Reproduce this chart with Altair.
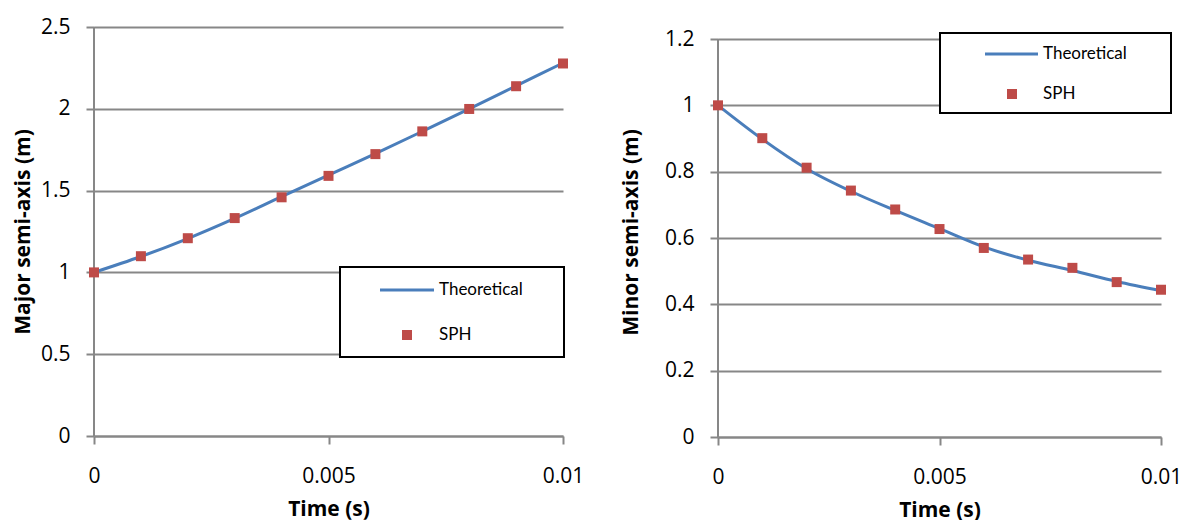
import altair as alt
import pandas as pd

# ---- data ----
time_s = [0, 0.001, 0.002, 0.003, 0.004, 0.005, 0.006, 0.007, 0.008, 0.009, 0.01]

major_theoretical = [1.0, 1.097, 1.207, 1.33, 1.463, 1.595, 1.726, 1.862, 2.0, 2.14, 2.28]
major_sph = [1.0, 1.099, 1.209, 1.332, 1.459, 1.590, 1.723, 1.862, 1.999, 2.138, 2.277]

minor_theoretical = [1.0, 0.898, 0.809, 0.741, 0.683, 0.628, 0.573, 0.533, 0.502, 0.469, 0.441]
minor_sph = [1.0, 0.901, 0.812, 0.743, 0.686, 0.627, 0.570, 0.535, 0.510, 0.467, 0.444]

x_ticks = [0, 0.005, 0.01]
major_y_ticks = [0, 0.5, 1, 1.5, 2, 2.5]
minor_y_ticks = [0, 0.2, 0.4, 0.6, 0.8, 1.0, 1.2]

legend_labels = ["Theoretical", "SPH"]

BLUE = "#4A7EBB"
RED = "#BE4B48"
GRID = "#878787"
FONT = "Open Sans"
LEGEND_FONT = "Lato"


def panel(theo, sph, y_ticks, y_top, y_max, y_title, w, h, box, title_pad):
    df = pd.DataFrame({"t": time_s, "theo": theo, "sph": sph})
    x = alt.X(
        "t:Q",
        scale=alt.Scale(domain=[0, 0.01], nice=False, zero=False),
        axis=alt.Axis(
            values=x_ticks,
            labelExpr="format(datum.value, '~g')",
            labelFlush=False,
            title="Time (s)",
            grid=False,
            domainColor=GRID,
            domainWidth=2,
            tickColor=GRID,
            tickWidth=2,
            tickSize=8,
            labelPadding=21,
            titlePadding=12,
        ),
    )
    yaxis = alt.Axis(
        values=y_ticks,
        labelExpr="format(datum.value, '~g')",
        title=y_title,
        grid=True,
        gridColor=GRID,
        gridWidth=2,
        domain=False,
        tickColor=GRID,
        tickWidth=2,
        tickSize=8,
        labelPadding=16,
        titlePadding=title_pad,
    )
    yscale = alt.Scale(domain=[0, y_top], nice=False, zero=True)

    line = alt.Chart(df).mark_line(color=BLUE, strokeWidth=3, interpolate="monotone").encode(
        x=x, y=alt.Y("theo:Q", scale=yscale, axis=yaxis)
    )
    # vertical axis line from 0 to the last tick
    yline = alt.Chart(alt.Data(values=[{"a": 1}])).mark_rule(color=GRID, strokeWidth=2).encode(
        x=alt.datum(0), y=alt.datum(0), y2=alt.datum(y_max)
    )
    pts = alt.Chart(df).mark_square(color=RED, size=100, opacity=1).encode(
        x=alt.X("t:Q"), y=alt.Y("sph:Q")
    )

    bx0, by0, bx1, by1, lx0, lx1, ly1, sqx, ly2, tx = box
    one = alt.Data(values=[{"a": 1}])
    rect = alt.Chart(one).mark_rect(fill="white", stroke="black", strokeWidth=2).encode(
        x=alt.value(bx0), x2=alt.value(bx1), y=alt.value(by0), y2=alt.value(by1)
    )
    lline = alt.Chart(one).mark_rule(color=BLUE, strokeWidth=3).encode(
        x=alt.value(lx0), x2=alt.value(lx1), y=alt.value(ly1)
    )
    lsq = alt.Chart(one).mark_square(color=RED, size=100, opacity=1).encode(
        x=alt.value(sqx), y=alt.value(ly2)
    )
    t1 = alt.Chart(one).mark_text(align="left", baseline="middle", font=LEGEND_FONT, fontSize=17, color="black").encode(
        x=alt.value(tx), y=alt.value(ly1), text=alt.value(legend_labels[0])
    )
    t2 = alt.Chart(one).mark_text(align="left", baseline="middle", font=LEGEND_FONT, fontSize=17, color="black").encode(
        x=alt.value(tx), y=alt.value(ly2), text=alt.value(legend_labels[1])
    )
    layers = [line, yline, pts, rect, lline, lsq, t1, t2]
    return alt.layer(*layers).properties(width=w, height=h)


left = panel(
    major_theoretical, major_sph, major_y_ticks, 2.5, 2.5, "Major semi-axis (m)", 469, 409,
    (246, 240, 470, 330, 286, 340, 263, 313, 308, 345), 7,
)
# right plot area extends 12 px above its top tick (1.2) so both panels share a top
right = panel(
    minor_theoretical, minor_sph, minor_y_ticks, 1.2 + 12 * 1.2 / 398, 1.2, "Minor semi-axis (m)", 443, 410,
    (222, 6, 453, 86, 267, 320, 27, 294, 67, 325), 23,
)

chart = (
    alt.hconcat(left, right, spacing=36)
    .properties(padding={"left": 12, "top": 16, "right": 0, "bottom": 0})
    .configure_view(stroke=None)
    .configure_axis(
        labelFont=FONT,
        labelFontSize=21,
        labelColor="black",
        titleFont=FONT,
        titleFontSize=21,
        titleFontWeight="bold",
        titleColor="black",
    )
)

chart.save("out.html", embed_options={"renderer": "svg", "actions": False})
